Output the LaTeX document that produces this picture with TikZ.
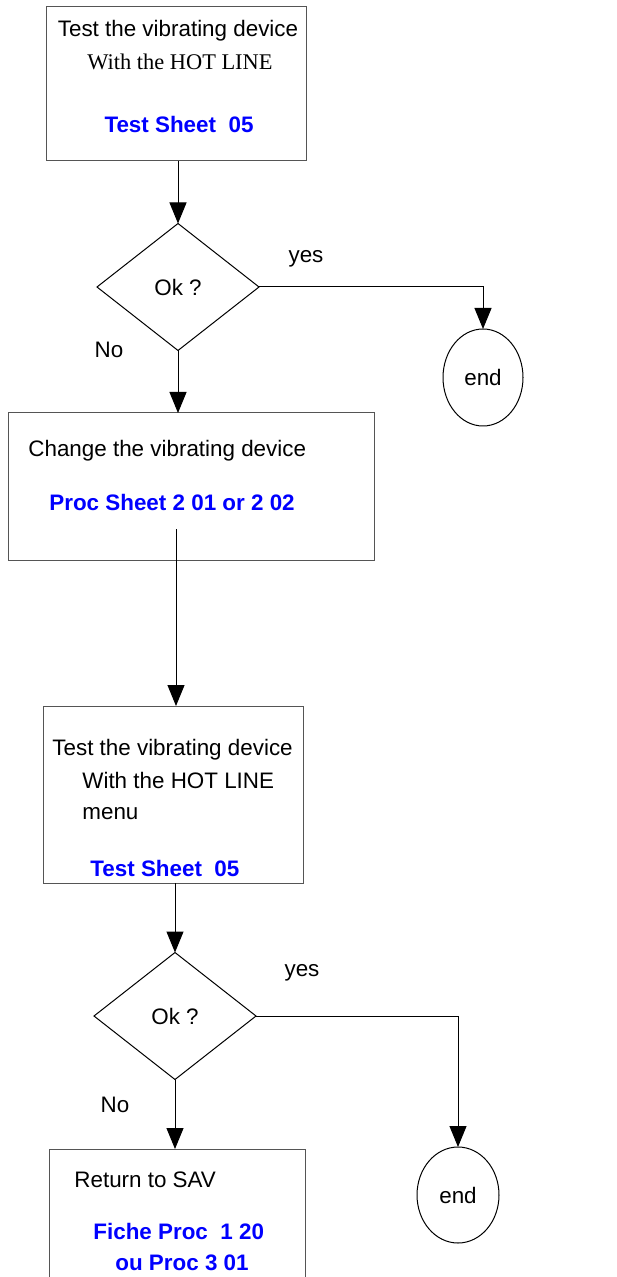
\documentclass[tikz,border=0pt]{standalone}
\usepackage{fontspec}
\setmainfont{Liberation Sans}
\newfontfamily\timesfont{Liberation Serif}
\usetikzlibrary{arrows.meta, shapes.geometric}
\definecolor{sheetblue}{RGB}{0,0,255}
\definecolor{boxgray}{RGB}{85,85,85}

\begin{document}
\begin{tikzpicture}[x=0.5pt, y=-0.5pt,
  font=\fontsize{11.2}{13}\selectfont,
  box/.style={draw=boxgray, line width=0.5pt, inner sep=0pt, outer sep=0pt},
  test/.style={draw, diamond, line width=0.5pt, inner sep=0pt, outer sep=0pt, minimum width=81pt, minimum height=63.5pt},
  stop/.style={draw, ellipse, line width=0.5pt, inner sep=0pt, outer sep=0pt},
  flow/.style={line width=0.5pt, -{Triangle[length=10.5pt, width=8.5pt]}},
  sheet/.style={inner sep=0pt, text=sheetblue, font=\fontsize{11.2}{13}\selectfont\bfseries},
  txt/.style={inner sep=0pt}]
  \clip (0,0) rectangle (616,1277);

  % first test
  \node[box, minimum width=130pt, minimum height=77pt] (box1) at (176,84) {};
  \node[txt, anchor=base] (t1a) at (178,37) {Test the vibrating device};
  \node[txt, anchor=base] (t1b) at (180,70) {\timesfont With the HOT LINE};
  \node[sheet, anchor=base] (t1c) at (179,133) {Test Sheet~~05};

  \node[test] (dia1) at (178,287) {Ok ?};
  \node[stop, minimum width=40pt, minimum height=48.5pt] (end1) at (483,377.5) {end};
  \node[txt, anchor=base] (yes1) at (306,263) {yes};
  \node[txt, anchor=base] (no1) at (109,358) {No};

  % change
  \node[box, minimum width=183pt, minimum height=73.5pt] (box2) at (191,486.5) {};
  \node[txt, anchor=base west] (t2a) at (28,457) {Change the vibrating device};
  \node[sheet, anchor=base west] (t2b) at (49,510) {Proc Sheet 2 01 or 2 02};
  \coordinate (c2) at (176,529);

  % second test
  \node[box, minimum width=130pt, minimum height=88.5pt] (box3) at (173,794.5) {};
  \node[txt, anchor=base west] (t3a) at (52,755) {Test the vibrating device};
  \node[txt, anchor=base west] (t3b) at (82,788) {With the HOT LINE};
  \node[txt, anchor=base west] (t3c) at (82,819) {menu};
  \node[sheet, anchor=base west] (t3d) at (90,876) {Test Sheet~~05};

  \node[test] (dia2) at (175,1016) {Ok ?};
  \node[stop, minimum width=41pt, minimum height=48pt] (end2) at (458,1195) {end};
  \node[txt, anchor=base] (yes2) at (302,976) {yes};
  \node[txt, anchor=base] (no2) at (115,1112) {No};

  % return
  \node[box, minimum width=128pt, minimum height=85.5pt] (box4) at (177,1234.5) {};
  \node[txt, anchor=base west] (t4a) at (74,1187) {Return to SAV};
  \node[sheet, anchor=base west] (t4b) at (93,1239) {Fiche Proc~~1 20};
  \node[sheet, anchor=base west] (t4c) at (115,1270) {ou Proc 3 01};

  \draw[flow] (dia1.north |- box1.south) -- (dia1.north);
  \draw[flow] (dia1.east) -| (end1.north);
  \draw[flow] (dia1.south) -- (dia1.south |- box2.north);
  \draw[flow] (c2) -- (c2 |- box3.north);
  \draw[flow] (dia2.north |- box3.south) -- (dia2.north);
  \draw[flow] (dia2.east) -| (end2.north);
  \draw[flow] (dia2.south) -- (dia2.south |- box4.north);
\end{tikzpicture}
\end{document}
